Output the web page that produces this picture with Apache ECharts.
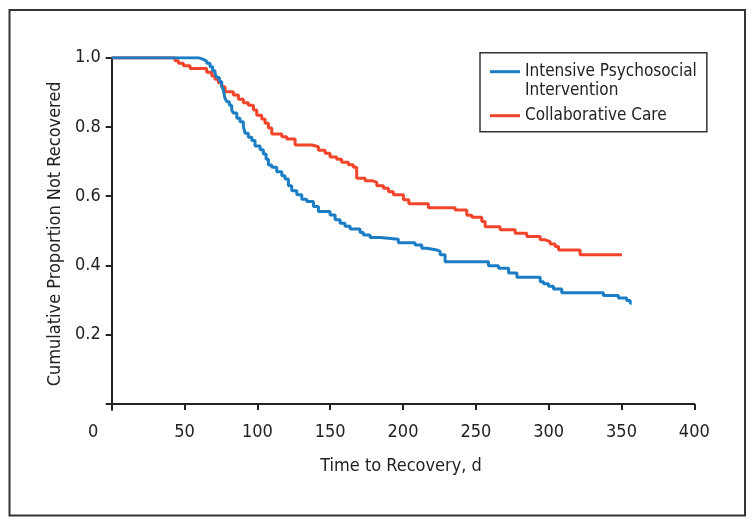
<!DOCTYPE html>
<html>
<head>
<meta charset="utf-8">
<script src="https://cdn.jsdelivr.net/npm/echarts@6/dist/echarts.min.js"></script>
<style>
html,body{margin:0;padding:0;background:#fff;}
#chart{width:755px;height:527px;}
</style>
</head>
<body>
<div id="chart"></div>
<script>
// ---- data ----
const seriesNames = ['Intensive Psychosocial Intervention', 'Collaborative Care'];
const xTickValues = [0, 50, 100, 150, 200, 250, 300, 350, 400];
const yTickValues = [0, 0.2, 0.4, 0.6, 0.8, 1.0];
const yLabelValues = [0.2, 0.4, 0.6, 0.8, 1.0];

const blueT = [0, 59.5, 62.9, 65.2, 67.5, 69.3, 70.9, 72.1, 73.9, 75.5, 76.6, 77.8, 79.0, 80.8, 82.4, 83.5, 85.9, 88.1, 90.4, 91.6, 93.8, 96.2, 98.4, 101.9, 104.1, 106.0, 107.6, 109.9, 113.3, 116.8, 119.0, 121.3, 123.6, 127.1, 130.5, 133.9, 138.5, 141.9, 149.9, 153.4, 156.8, 160.2, 163.7, 170.5, 172.8, 177.4, 184.3, 196.8, 208.3, 212.9, 216.3, 223.2, 225.5, 228.9, 258.7, 265.6, 272.5, 278.2, 294.2, 296.5, 299.9, 303.3, 309.0, 337.6, 347.9, 353.6, 356.0, 357.0];
const blueS = [1.0, 0.995, 0.990, 0.984, 0.974, 0.962, 0.955, 0.943, 0.931, 0.918, 0.907, 0.883, 0.873, 0.863, 0.849, 0.840, 0.825, 0.815, 0.801, 0.782, 0.770, 0.761, 0.745, 0.734, 0.722, 0.707, 0.690, 0.684, 0.671, 0.659, 0.650, 0.630, 0.616, 0.604, 0.591, 0.585, 0.570, 0.556, 0.546, 0.532, 0.522, 0.513, 0.505, 0.495, 0.488, 0.481, 0.476, 0.466, 0.459, 0.450, 0.445, 0.441, 0.431, 0.411, 0.399, 0.392, 0.378, 0.366, 0.353, 0.347, 0.340, 0.332, 0.321, 0.313, 0.306, 0.299, 0.291, 0.291];

const redT = [0, 43.5, 45.8, 49.2, 53.8, 65.2, 68.7, 70.9, 73.2, 75.5, 77.8, 83.5, 87.0, 90.4, 93.8, 97.3, 99.6, 103.0, 105.3, 107.6, 109.9, 116.8, 120.2, 125.9, 137.4, 141.9, 146.5, 149.9, 154.5, 157.9, 162.5, 165.9, 168.2, 174.0, 178.6, 182.0, 186.6, 190.0, 193.4, 200.3, 204.0, 217.4, 235.8, 243.8, 247.3, 254.1, 256.4, 266.7, 277.0, 285.0, 294.2, 297.6, 301.0, 304.5, 306.8, 321.6, 350.3];
const redS = [1.0, 0.991, 0.984, 0.977, 0.969, 0.958, 0.947, 0.938, 0.928, 0.916, 0.902, 0.892, 0.880, 0.870, 0.863, 0.849, 0.834, 0.823, 0.811, 0.797, 0.780, 0.772, 0.765, 0.748, 0.743, 0.733, 0.724, 0.713, 0.707, 0.698, 0.691, 0.684, 0.652, 0.645, 0.640, 0.630, 0.623, 0.613, 0.604, 0.590, 0.578, 0.567, 0.560, 0.545, 0.539, 0.527, 0.512, 0.503, 0.493, 0.484, 0.474, 0.469, 0.462, 0.455, 0.445, 0.431, 0.431];

// ---- chart ----
const FONT = '"Liberation Sans Narrow", "Arial Narrow", "DejaVu Sans Condensed", sans-serif';
const TXT = '#222';
const BLUE = '#1b7dc3';
const RED = '#f2442b';

const chart = echarts.init(document.getElementById('chart'), null, {renderer: 'canvas'});
const option = {
  backgroundColor: '#fff',
  animation: false,
  graphic: [{
    type: 'rect', silent: true,
    shape: {x: 9.5, y: 10, width: 735.5, height: 505.5},
    style: {fill: 'none', stroke: '#333', lineWidth: 2}
  }],
  grid: {left: 107.7, top: 57.7, width: 586.6, height: 352.3, containLabel: false},
  legend: {
    orient: 'vertical', left: 480, top: 52.7,
    padding: [9, 10, 6, 10], itemGap: 0, itemWidth: 30, itemHeight: 3,
    borderColor: '#333', borderWidth: 1.5, backgroundColor: '#fff',
    selectedMode: false,
    data: [
      {name: seriesNames[0], icon: 'rect'},
      {name: 'Intervention', icon: 'none'},
      {name: seriesNames[1], icon: 'rect'}
    ],
    formatter: function (n) {
      if (n === seriesNames[0]) return 'Intensive Psychosocial';
      if (n === 'Intervention') return '{p|Intervention}';
      return n;
    },
    textStyle: {
      fontFamily: FONT, fontSize: 17, color: TXT, lineHeight: 20,
      rich: {p: {fontFamily: FONT, fontSize: 17, color: TXT, lineHeight: 20, padding: [0, 0, 7, 0]}}
    }
  },
  xAxis: {
    type: 'value', min: -2.75, max: 400,
    name: 'Time to Recovery, d', nameLocation: 'middle', nameGap: 47,
    nameTextStyle: {fontFamily: FONT, fontSize: 18, color: TXT},
    splitLine: {show: false},
    axisLine: {lineStyle: {color: '#222', width: 2}},
    axisTick: {show: true, length: 6, customValues: xTickValues, lineStyle: {color: '#222', width: 2}},
    axisLabel: {
      customValues: xTickValues, margin: 13,
      fontFamily: FONT, fontSize: 18, color: TXT,
      formatter: function (v) { return v === 0 ? '{z|0}' : String(v); },
      rich: {z: {fontFamily: FONT, fontSize: 18, color: TXT, padding: [0, 37, 0, 0]}}
    }
  },
  yAxis: {
    type: 'value', min: -0.0173, max: 1.0,
    name: 'Cumulative Proportion Not Recovered', nameLocation: 'middle', nameGap: 39, nameRotate: 90,
    nameTextStyle: {fontFamily: FONT, fontSize: 18, color: TXT},
    splitLine: {show: false},
    axisLine: {show: true, lineStyle: {color: '#222', width: 2}},
    axisTick: {show: true, length: 6, customValues: yTickValues, lineStyle: {color: '#222', width: 2}},
    axisLabel: {
      customValues: yLabelValues, margin: 7,
      fontFamily: FONT, fontSize: 18, color: TXT,
      formatter: function (v) { return v.toFixed(1); }
    }
  },
  series: [
    {
      name: seriesNames[0], type: 'line', step: 'end', symbol: 'none', showSymbol: false,
      color: BLUE, lineStyle: {width: 3, color: BLUE}, z: 3,
      data: blueT.map((t, i) => [t, blueS[i]])
    },
    {
      name: 'Intervention', type: 'line', data: [], symbol: 'none', color: '#fff'
    },
    {
      name: seriesNames[1], type: 'line', step: 'end', symbol: 'none', showSymbol: false,
      color: RED, lineStyle: {width: 3, color: RED}, z: 2,
      data: redT.map((t, i) => [t, redS[i]])
    }
  ]
};
chart.setOption(option);
</script>
</body>
</html>
